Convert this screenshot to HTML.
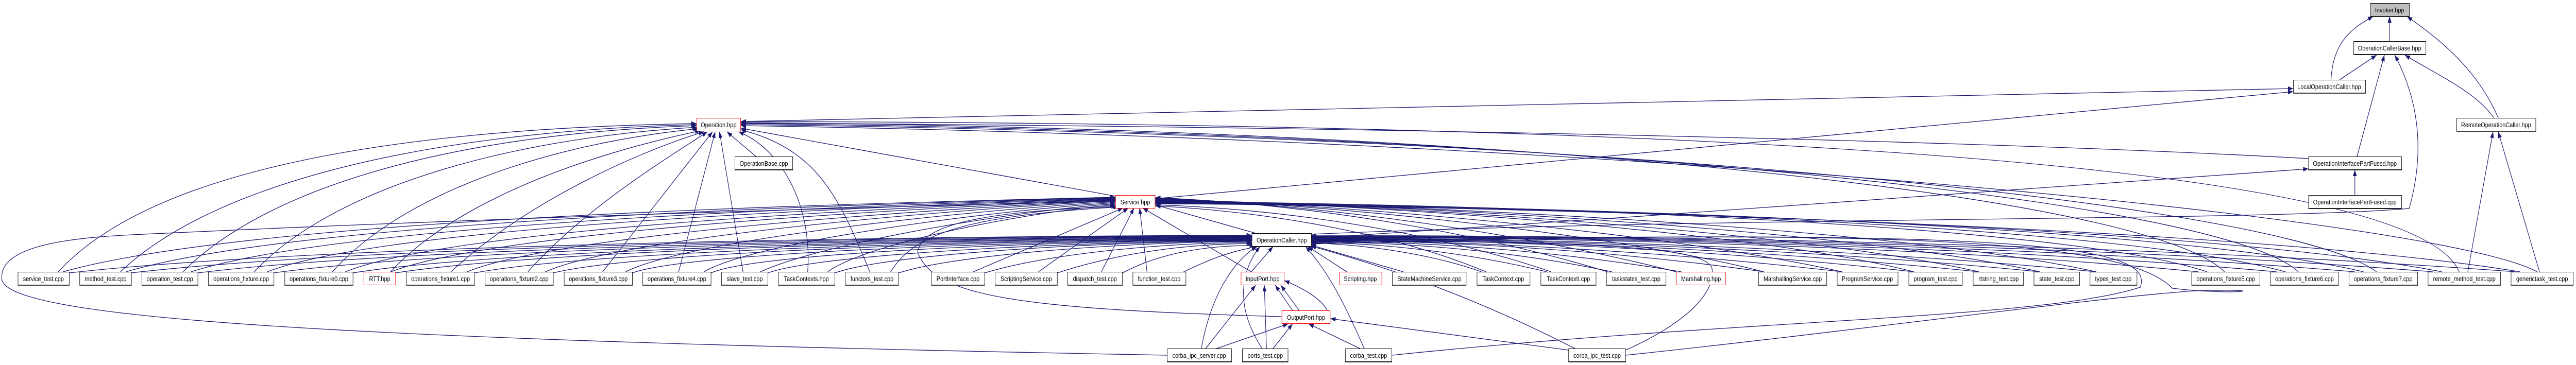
<!DOCTYPE html>
<html><head><meta charset="utf-8"><style>
html,body{margin:0;padding:0;background:#fff;width:100%;height:100%;overflow:hidden;}
svg{display:block;width:100vw;height:100vh;}
text{font-family:"Liberation Sans",sans-serif;font-size:13px;text-anchor:middle;fill:#000;}
.b{fill:#fff;stroke:#000;stroke-width:1;}
.r{fill:#fff;stroke:#ff0000;stroke-width:1;}
.g{fill:#bfbfbf;stroke:#000;stroke-width:1;}
.s{fill:#444;}
</style></head><body>
<svg viewBox="0 0 5929 709" preserveAspectRatio="none">
<rect x="0" y="0" width="5929" height="709" fill="#fff"/>
<defs><marker id="a" markerWidth="12" markerHeight="9" refX="12" refY="4.5" orient="auto" markerUnits="userSpaceOnUse"><path d="M0,0 L12,4.5 L0,9 z" fill="#191970"/></marker></defs>
<g fill="none" stroke="#191970" stroke-width="1.3" marker-end="url(#a)">
<path d="M134 528 C350 330,900 250,1603 240"/>
<path d="M277 528 C500 350,1000 255,1603 242"/>
<path d="M421 528 C620 360,1050 260,1603 244"/>
<path d="M585 528 C760 370,1150 270,1605 247"/>
<path d="M765 528 C920 380,1250 280,1607 250"/>
<path d="M899 528 C1050 390,1350 300,1612 254"/>
<path d="M1038 528 C1200 400,1450 300,1620 256"/>
<path d="M1215 528 C1350 400,1550 300,1628 256"/>
<path d="M1387 528 L1640 256"/>
<path d="M1562 528 L1646 256"/>
<path d="M1710 528 L1656 256"/>
<path d="M1859 528 C1870 400,1800 290,1700 256"/>
<path d="M2002 528 C1930 380,1880 290,1705 252"/>
<path d="M1740 304 L1673 256"/>
<path d="M2567 381 L1705 249"/>
<path d="M5120 528 C4950 380,3500 250,1705 238"/>
<path d="M5290 528 C5100 380,3500 255,1705 240"/>
<path d="M5470 528 C5250 390,3600 260,1705 242"/>
<path d="M5660 528 C5560 320,4000 240,1705 236"/>
<path d="M5840 528 C5600 420,3700 270,1705 244"/>
<path d="M5313 308 C4500 270,3000 245,1705 239"/>
<path d="M1705 236 L5278 172"/>
<path d="M2659 386 L5278 178"/>
<path d="M145 528 C600 420,2000 395,2567 383"/>
<path d="M290 528 C700 425,2000 396,2567 384"/>
<path d="M440 528 C800 430,2050 397,2567 385"/>
<path d="M615 528 C900 435,2100 398,2567 386"/>
<path d="M795 528 C1050 440,2150 399,2567 387"/>
<path d="M900 528 C1150 445,2200 400,2567 388"/>
<path d="M1075 528 C1300 450,2250 401,2567 389"/>
<path d="M1255 528 C1450 455,2280 402,2567 390"/>
<path d="M1440 528 C1600 460,2300 404,2567 392"/>
<path d="M1620 528 C1750 465,2320 406,2567 394"/>
<path d="M1750 528 C1900 470,2350 408,2567 396"/>
<path d="M1905 528 C2000 470,2380 410,2567 398"/>
<path d="M2050 528 C2100 460,2200 420,2575 402"/>
<path d="M2240 528 L2585 404"/>
<path d="M2390 528 L2597 404"/>
<path d="M2535 528 L2610 404"/>
<path d="M2640 528 L2623 404"/>
<path d="M2880 528 L2630 404"/>
<path d="M2890 453 L2659 398"/>
<path d="M3700 528 C3400 450,3000 395,2659 384"/>
<path d="M3858 528 C3500 450,3000 394,2659 385"/>
<path d="M4060 528 C3700 450,3000 393,2659 386"/>
<path d="M4240 528 C3800 445,3000 392,2659 387"/>
<path d="M4405 528 C4000 440,3000 391,2659 388"/>
<path d="M4555 528 C4100 440,3000 390,2659 389"/>
<path d="M4695 528 C4200 435,3000 390,2659 390"/>
<path d="M4825 528 C4300 430,3000 391,2659 391"/>
<path d="M5080 528 C4700 420,3100 392,2659 392"/>
<path d="M5260 528 C4800 420,3100 393,2659 393"/>
<path d="M5440 528 C4900 420,3100 394,2659 394"/>
<path d="M5620 528 C5000 425,3100 395,2659 395"/>
<path d="M5800 528 C5100 430,3100 396,2659 396"/>
<path d="M3420 528 C3200 450,2900 410,2659 400"/>
<path d="M3570 528 C3300 450,2950 405,2659 398"/>
<path d="M2686 690 C800 660,0 620,4 540 C0 470,200 460,330 455 C1200 420,2300 395,2567 391"/>
<path d="M2950 615 C2300 600,2150 570,2112 490 C2120 430,2300 410,2570 401"/>
<path d="M160 530 C800 470,2300 458,2881 457"/>
<path d="M303 530 C900 472,2300 459,2881 458"/>
<path d="M456 530 C1000 474,2350 460,2881 459"/>
<path d="M631 530 C1100 476,2350 461,2881 460"/>
<path d="M813 530 C1200 478,2400 462,2881 461"/>
<path d="M911 530 C1300 480,2400 463,2881 462"/>
<path d="M1093 530 C1400 482,2450 464,2881 463"/>
<path d="M1274 530 C1500 484,2450 465,2881 464"/>
<path d="M1456 530 C1600 486,2500 466,2881 465"/>
<path d="M1637 530 C1750 488,2500 467,2881 466"/>
<path d="M1768 530 C1900 490,2550 468,2881 467"/>
<path d="M1922 530 C2050 492,2550 469,2881 468"/>
<path d="M2069 530 C2200 494,2600 470,2881 469"/>
<path d="M2267 530 C2400 496,2650 472,2881 471"/>
<path d="M2434 530 C2550 498,2700 474,2883 473"/>
<path d="M2584 530 C2650 500,2750 476,2888 477"/>
<path d="M2720 530 C2780 505,2830 488,2895 479"/>
<path d="M2880 528 L2930 479"/>
<path d="M3100 528 L3010 479"/>
<path d="M3230 528 L3017 476"/>
<path d="M3410 528 C3300 495,3150 475,3017 472"/>
<path d="M3560 528 C3400 495,3200 472,3017 471"/>
<path d="M3710 528 C3500 490,3250 470,3017 470"/>
<path d="M3870 528 C3600 490,3300 468,3017 469"/>
<path d="M4060 528 C3700 485,3300 466,3017 468"/>
<path d="M4240 528 C3800 485,3300 465,3017 467"/>
<path d="M4405 528 C3900 480,3350 464,3017 466"/>
<path d="M4555 528 C4000 480,3400 463,3017 465"/>
<path d="M4695 528 C4100 478,3400 462,3017 464"/>
<path d="M4825 528 C4200 476,3400 461,3017 463"/>
<path d="M5060 528 C4400 474,3500 460,3017 462"/>
<path d="M5240 528 C4500 472,3500 459,3017 461"/>
<path d="M5420 528 C4600 470,3500 458,3017 460"/>
<path d="M5600 528 C4700 468,3500 457,3017 459"/>
<path d="M5790 528 C4800 466,3500 456,3017 458"/>
<path d="M2765 677 C2790 560,2850 500,2893 479"/>
<path d="M2905 677 C2830 580,2870 510,2900 479"/>
<path d="M3140 677 C3100 600,3060 530,3005 479"/>
<path d="M3625 677 C3400 580,3200 520,3017 478"/>
<path d="M2800 677 L2965 629"/>
<path d="M2930 677 L2975 629"/>
<path d="M3130 677 L3012 629"/>
<path d="M3610 680 L3062 619"/>
<path d="M2975 603 L2935 554"/>
<path d="M2990 603 L2948 554"/>
<path d="M3055 603 C3040 580,3000 560,2956 545"/>
<path d="M2775 677 L2890 554"/>
<path d="M2915 677 L2910 554"/>
<path d="M3204 690 C4000 620,4700 620,4926 558 C4960 480,4700 440,3017 470"/>
<path d="M3742 690 C4300 640,4800 580,5050 565 C5250 560,5150 575,5000 560 C4900 470,4400 440,3017 474"/>
<path d="M3742 680 C3900 620,3950 560,3940 520 C3920 480,3700 470,3017 467"/>
<path d="M5420 379 L5420 330"/>
<path d="M3017 463 C3800 420,4800 360,5313 328"/>
<path d="M5425 304 L5488 107"/>
<path d="M3017 455 C4000 420,5200 430,5545 405 C5580 300,5570 200,5512 107"/>
<path d="M5385 155 L5470 107"/>
<path d="M5740 229 C5700 180,5620 150,5535 107"/>
<path d="M5365 155 C5370 90,5400 60,5462 32"/>
<path d="M5500 80 L5500 32"/>
<path d="M5750 229 C5710 150,5640 90,5540 32"/>
<path d="M5680 528 L5738 256"/>
<path d="M5845 528 L5750 256"/>
</g>
<g>
<rect class="s" x="5455" y="31" width="91" height="2"/><rect class="g" x="5455.5" y="6.5" width="90" height="25"/><text x="5500" y="24">Invoker.hpp</text>
<rect class="s" x="5417" y="105" width="167" height="2"/><rect class="b" x="5417.5" y="80.5" width="166" height="25"/><text x="5500" y="98">OperationCallerBase.hpp</text>
<rect class="s" x="5278" y="180" width="167" height="2"/><rect class="b" x="5278.5" y="155.5" width="166" height="25"/><text x="5361" y="173">LocalOperationCaller.hpp</text>
<rect class="s" x="5654" y="254" width="183" height="2"/><rect class="b" x="5654.5" y="229.5" width="182" height="25"/><text x="5745" y="247">RemoteOperationCaller.hpp</text>
<rect class="s" x="5313" y="329" width="215" height="2"/><rect class="b" x="5313.5" y="304.5" width="214" height="25"/><text x="5420" y="322">OperationInterfacePartFused.hpp</text>
<rect class="s" x="5313" y="404" width="215" height="2"/><rect class="b" x="5313.5" y="379.5" width="214" height="25"/><text x="5420" y="397">OperationInterfacePartFused.cpp</text>
<rect class="r" x="1603.5" y="229.5" width="101" height="25"/><text x="1654" y="247">Operation.hpp</text>
<rect class="s" x="1691" y="329" width="134" height="2"/><rect class="b" x="1691.5" y="304.5" width="133" height="25"/><text x="1758" y="322">OperationBase.cpp</text>
<rect class="r" x="2567.5" y="379.5" width="91" height="25"/><text x="2613" y="397">Service.hpp</text>
<rect class="s" x="2881" y="478" width="138" height="2"/><rect class="b" x="2881.5" y="453.5" width="137" height="25"/><text x="2950" y="471">OperationCaller.hpp</text>
</g>
<g>
<rect class="s" x="41" y="553" width="119" height="2"/><rect class="b" x="41.5" y="528.5" width="118" height="25"/><text x="100" y="546">service_test.cpp</text>
<rect class="s" x="183" y="553" width="120" height="2"/><rect class="b" x="183.5" y="528.5" width="119" height="25"/><text x="243" y="546">method_test.cpp</text>
<rect class="s" x="326" y="553" width="130" height="2"/><rect class="b" x="326.5" y="528.5" width="129" height="25"/><text x="391" y="546">operation_test.cpp</text>
<rect class="s" x="479" y="553" width="152" height="2"/><rect class="b" x="479.5" y="528.5" width="151" height="25"/><text x="555" y="546">operations_fixture.cpp</text>
<rect class="s" x="655" y="553" width="158" height="2"/><rect class="b" x="655.5" y="528.5" width="157" height="25"/><text x="734" y="546">operations_fixture0.cpp</text>
<rect class="r" x="837.5" y="528.5" width="73" height="25"/><text x="874" y="546">RTT.hpp</text>
<rect class="s" x="935" y="553" width="158" height="2"/><rect class="b" x="935.5" y="528.5" width="157" height="25"/><text x="1014" y="546">operations_fixture1.cpp</text>
<rect class="s" x="1116" y="553" width="158" height="2"/><rect class="b" x="1116.5" y="528.5" width="157" height="25"/><text x="1195" y="546">operations_fixture2.cpp</text>
<rect class="s" x="1298" y="553" width="158" height="2"/><rect class="b" x="1298.5" y="528.5" width="157" height="25"/><text x="1377" y="546">operations_fixture3.cpp</text>
<rect class="s" x="1479" y="553" width="158" height="2"/><rect class="b" x="1479.5" y="528.5" width="157" height="25"/><text x="1558" y="546">operations_fixture4.cpp</text>
<rect class="s" x="1660" y="553" width="108" height="2"/><rect class="b" x="1660.5" y="528.5" width="107" height="25"/><text x="1714" y="546">slave_test.cpp</text>
<rect class="s" x="1791" y="553" width="131" height="2"/><rect class="b" x="1791.5" y="528.5" width="130" height="25"/><text x="1856" y="546">TaskContexts.hpp</text>
<rect class="s" x="1945" y="553" width="124" height="2"/><rect class="b" x="1945.5" y="528.5" width="123" height="25"/><text x="2007" y="546">functors_test.cpp</text>
<rect class="s" x="2143" y="553" width="124" height="2"/><rect class="b" x="2143.5" y="528.5" width="123" height="25"/><text x="2205" y="546">PortInterface.cpp</text>
<rect class="s" x="2290" y="553" width="144" height="2"/><rect class="b" x="2290.5" y="528.5" width="143" height="25"/><text x="2362" y="546">ScriptingService.cpp</text>
<rect class="s" x="2457" y="553" width="127" height="2"/><rect class="b" x="2457.5" y="528.5" width="126" height="25"/><text x="2520" y="546">dispatch_test.cpp</text>
<rect class="s" x="2607" y="553" width="123" height="2"/><rect class="b" x="2607.5" y="528.5" width="122" height="25"/><text x="2668" y="546">function_test.cpp</text>
<rect class="r" x="2856.5" y="528.5" width="99" height="25"/><text x="2906" y="546">InputPort.hpp</text>
<rect class="r" x="3082.5" y="528.5" width="98" height="25"/><text x="3131" y="546">Scripting.hpp</text>
<rect class="s" x="3204" y="553" width="171" height="2"/><rect class="b" x="3204.5" y="528.5" width="170" height="25"/><text x="3290" y="546">StateMachineService.cpp</text>
<rect class="s" x="3399" y="553" width="123" height="2"/><rect class="b" x="3399.5" y="528.5" width="122" height="25"/><text x="3460" y="546">TaskContext.cpp</text>
<rect class="s" x="3546" y="553" width="128" height="2"/><rect class="b" x="3546.5" y="528.5" width="127" height="25"/><text x="3610" y="546">TaskContextI.cpp</text>
<rect class="s" x="3697" y="553" width="138" height="2"/><rect class="b" x="3697.5" y="528.5" width="137" height="25"/><text x="3766" y="546">taskstates_test.cpp</text>
<rect class="r" x="3858.5" y="528.5" width="113" height="25"/><text x="3915" y="546">Marshalling.hpp</text>
<rect class="s" x="4047" y="553" width="158" height="2"/><rect class="b" x="4047.5" y="528.5" width="157" height="25"/><text x="4126" y="546">MarshallingService.cpp</text>
<rect class="s" x="4228" y="553" width="141" height="2"/><rect class="b" x="4228.5" y="528.5" width="140" height="25"/><text x="4298" y="546">ProgramService.cpp</text>
<rect class="s" x="4393" y="553" width="124" height="2"/><rect class="b" x="4393.5" y="528.5" width="123" height="25"/><text x="4455" y="546">program_test.cpp</text>
<rect class="s" x="4541" y="553" width="117" height="2"/><rect class="b" x="4541.5" y="528.5" width="116" height="25"/><text x="4600" y="546">rtstring_test.cpp</text>
<rect class="s" x="4681" y="553" width="106" height="2"/><rect class="b" x="4681.5" y="528.5" width="105" height="25"/><text x="4734" y="546">state_test.cpp</text>
<rect class="s" x="4810" y="553" width="109" height="2"/><rect class="b" x="4810.5" y="528.5" width="108" height="25"/><text x="4864" y="546">types_test.cpp</text>
<rect class="s" x="5044" y="553" width="158" height="2"/><rect class="b" x="5044.5" y="528.5" width="157" height="25"/><text x="5123" y="546">operations_fixture5.cpp</text>
<rect class="s" x="5225" y="553" width="158" height="2"/><rect class="b" x="5225.5" y="528.5" width="157" height="25"/><text x="5304" y="546">operations_fixture6.cpp</text>
<rect class="s" x="5406" y="553" width="159" height="2"/><rect class="b" x="5406.5" y="528.5" width="158" height="25"/><text x="5485" y="546">operations_fixture7.cpp</text>
<rect class="s" x="5588" y="553" width="168" height="2"/><rect class="b" x="5588.5" y="528.5" width="167" height="25"/><text x="5672" y="546">remote_method_test.cpp</text>
<rect class="s" x="5779" y="553" width="144" height="2"/><rect class="b" x="5779.5" y="528.5" width="143" height="25"/><text x="5851" y="546">generictask_test.cpp</text>
<rect class="r" x="2950.5" y="603.5" width="111" height="25"/><text x="3006" y="621">OutputPort.hpp</text>
<rect class="s" x="2686" y="702" width="149" height="2"/><rect class="b" x="2686.5" y="677.5" width="148" height="25"/><text x="2760" y="695">corba_ipc_server.cpp</text>
<rect class="s" x="2859" y="702" width="106" height="2"/><rect class="b" x="2859.5" y="677.5" width="105" height="25"/><text x="2912" y="695">ports_test.cpp</text>
<rect class="s" x="3096" y="702" width="108" height="2"/><rect class="b" x="3096.5" y="677.5" width="107" height="25"/><text x="3150" y="695">corba_test.cpp</text>
<rect class="s" x="3610" y="702" width="132" height="2"/><rect class="b" x="3610.5" y="677.5" width="131" height="25"/><text x="3676" y="695">corba_ipc_test.cpp</text>
</g>
</svg>
</body></html>
